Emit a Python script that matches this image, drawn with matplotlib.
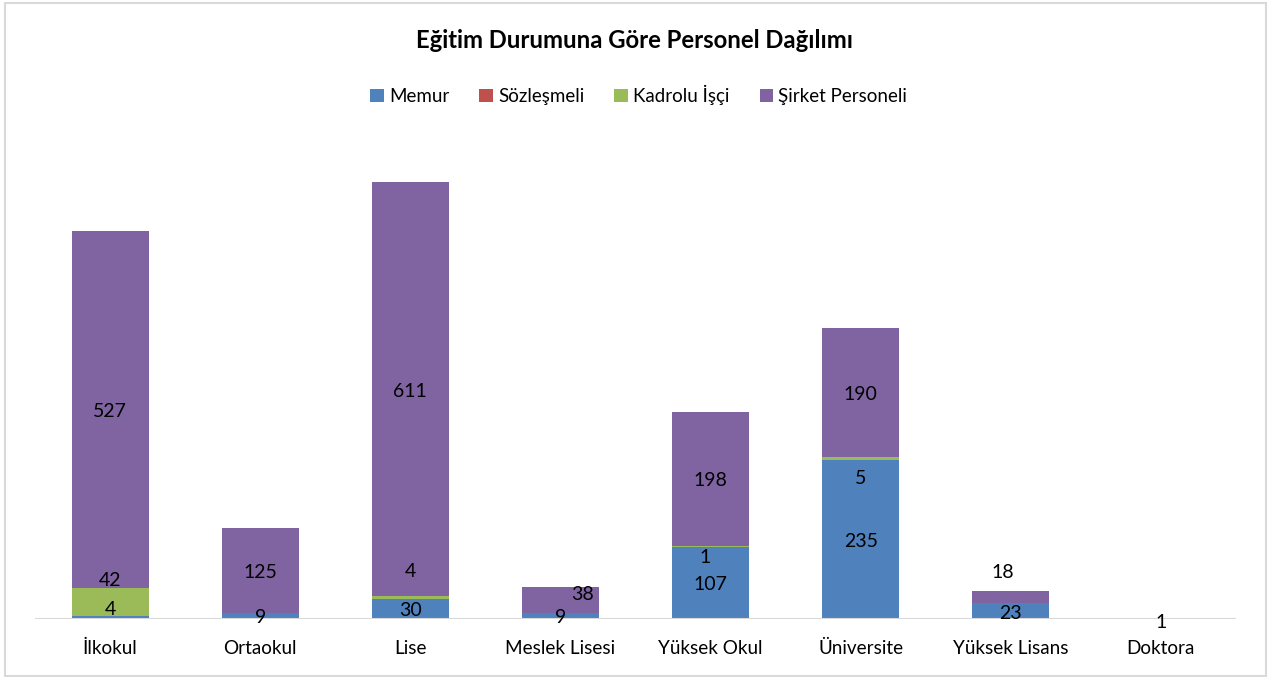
import numpy as np
import matplotlib
matplotlib.use('Agg')
import matplotlib.pyplot as plt
from matplotlib.patches import Rectangle

plt.rcParams['font.family'] = ['Lato', 'DejaVu Sans']

categories = ['İlkokul', 'Ortaokul', 'Lise', 'Meslek Lisesi', 'Yüksek Okul',
              'Üniversite', 'Yüksek Lisans', 'Doktora']
series_names = ['Memur', 'Sözleşmeli', 'Kadrolu İşçi', 'Şirket Personeli']
memur = [4, 9, 30, 9, 107, 235, 23, 1]
sozlesmeli = [0, 0, 0, 0, 0, 0, 0, 0]
kadrolu_isci = [42, 0, 4, 0, 1, 5, 0, 0]
sirket_personeli = [527, 125, 611, 38, 198, 190, 18, 0]

COLORS = ['#4F81BD', '#C0504D', '#9BBB59', '#8064A2']

# manual nudges of data labels (pixels), as in the original chart
label_offsets = {
    (0, 0): (0, 10), (0, 2): (0, 24),
    (2, 2): (0, 28),
    (3, 3): (22, 8),
    (4, 2): (-5, -9),
    (5, 2): (0, -18),
    (6, 3): (-8, 27),
    (7, 0): (0, -2),
}

fig = plt.figure(figsize=(12.7, 6.77), dpi=100)
ax = fig.add_axes([35 / 1270, 1 - 619 / 677, 1201 / 1270, 469 / 677])

x = np.arange(len(categories))
bottom = np.zeros(len(categories))
data = [memur, sozlesmeli, kadrolu_isci, sirket_personeli]
for si, (name, vals, col) in enumerate(zip(series_names, data, COLORS)):
    vals = np.array(vals, dtype=float)
    ax.bar(x, vals, 0.513, bottom=bottom, color=col, label=name, zorder=2)
    for i, v in enumerate(vals):
        if v <= 0:
            continue
        dx, dy = label_offsets.get((i, si), (0, 0))
        ax.annotate(f'{int(v)}', (x[i], bottom[i] + v / 2), xytext=(dx, dy - 2),
                    textcoords='offset pixels', ha='center', va='center',
                    fontsize=14, color='black', zorder=4)
    bottom += vals

ax.set_xlim(-0.5, len(categories) - 0.5)
ax.set_ylim(0, 469 / 0.677)
ax.axhline(0, color='#D9D9D9', linewidth=1.5, zorder=3)
for s in ax.spines.values():
    s.set_visible(False)
ax.set_yticks([])
ax.set_xticks(x)
ax.set_xticklabels(categories, fontsize=13.6)
ax.tick_params(axis='x', length=0, pad=15)

fig.text(0.5, 1 - 41 / 677, 'Eğitim Durumuna Göre Personel Dağılımı',
         ha='center', va='center', fontsize=17.2, fontweight='bold')
fig.legend(loc='center', bbox_to_anchor=(0.503, 1 - 95 / 677), ncol=4,
           frameon=False, fontsize=13.5, handlelength=0.7, handleheight=0.7,
           handletextpad=0.3, columnspacing=1.6)

fig.patches.append(Rectangle((5 / 1270, 1 - 676 / 677), 1261 / 1270, 673 / 677,
                             transform=fig.transFigure, fill=False,
                             edgecolor='#D9D9D9', linewidth=1.5))

plt.savefig('out.png', dpi=100)
